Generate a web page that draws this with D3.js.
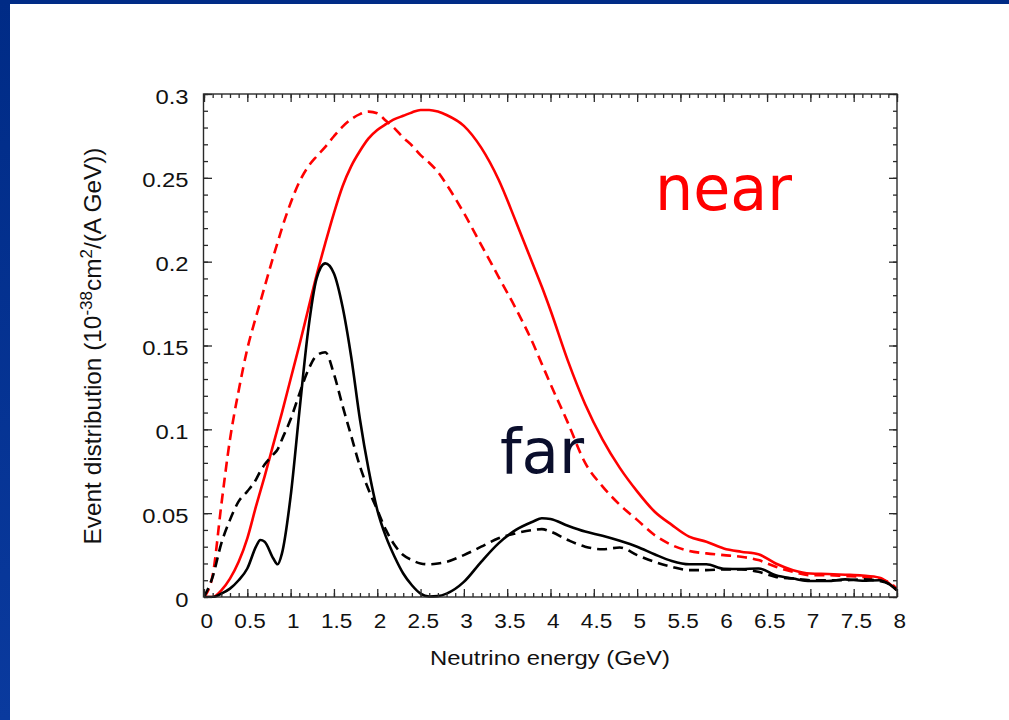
<!DOCTYPE html>
<html>
<head>
<meta charset="utf-8">
<script src="https://cdn.jsdelivr.net/npm/d3@7"></script>
<style>
  html, body { margin: 0; padding: 0; background: #ffffff; }
  svg { display: block; }
</style>
</head>
<body>
<svg id="chart" width="1009" height="720"></svg>
<script>
// ---- data ----
const energy = [0, 0.1, 0.2, 0.3, 0.4, 0.5, 0.6, 0.65, 0.7, 0.8, 0.85, 0.9, 1.0, 1.1, 1.2, 1.3, 1.4, 1.5,
  1.6, 1.7, 1.8, 1.9, 2.0, 2.1, 2.2, 2.3, 2.4, 2.5, 2.6, 2.7, 2.8, 3.0, 3.2, 3.4, 3.6, 3.8, 3.9, 4.0,
  4.2, 4.4, 4.6, 4.8, 5.0, 5.2, 5.4, 5.6, 5.8, 6.0, 6.2, 6.4, 6.6, 6.8, 7.0, 7.2, 7.4, 7.6, 7.8, 7.9, 8.0];

const nearSolid = [0, 0, 0.004, 0.011, 0.021, 0.035, 0.054, 0.063, 0.072, 0.091, 0.1005, 0.110, 0.130, 0.150,
  0.171, 0.192, 0.211, 0.229, 0.245, 0.257, 0.266, 0.2735, 0.2785, 0.282, 0.285, 0.287, 0.289, 0.2905, 0.2905,
  0.2895, 0.2875, 0.281, 0.268, 0.249, 0.224, 0.198, 0.185, 0.171, 0.141, 0.115, 0.094, 0.077, 0.063, 0.051,
  0.043, 0.036, 0.033, 0.029, 0.027, 0.0255, 0.020, 0.016, 0.014, 0.0137, 0.0133, 0.0128, 0.0115, 0.0085, 0.004];

const nearDashed = [0, 0.013, 0.055, 0.094, 0.123, 0.148, 0.167, 0.176, 0.185, 0.203, 0.2115, 0.220, 0.235, 0.2475,
  0.2565, 0.2628, 0.2685, 0.2748, 0.2805, 0.285, 0.288, 0.2895, 0.2885, 0.284, 0.2795, 0.274, 0.2693, 0.2635,
  0.259, 0.2535, 0.246, 0.229, 0.210, 0.191, 0.172, 0.151, 0.139, 0.127, 0.104, 0.080, 0.066, 0.055, 0.046,
  0.037, 0.031, 0.0275, 0.026, 0.025, 0.024, 0.022, 0.018, 0.015, 0.013, 0.013, 0.0125, 0.012, 0.0105, 0.009, 0.005];

const farSolid = [0, 0, 0.002, 0.005, 0.010, 0.017, 0.030, 0.034, 0.033, 0.023, 0.0195, 0.026, 0.060, 0.110,
  0.158, 0.190, 0.199, 0.193, 0.173, 0.143, 0.106, 0.076, 0.052, 0.036, 0.024, 0.014, 0.007, 0.002, 0.0003,
  0.0005, 0.002, 0.009, 0.021, 0.032, 0.040, 0.045, 0.047, 0.0465, 0.0425, 0.039, 0.0365, 0.0335, 0.030,
  0.0255, 0.0215, 0.0195, 0.0195, 0.0168, 0.0167, 0.017, 0.013, 0.011, 0.0095, 0.0095, 0.0105, 0.0097, 0.010, 0.008, 0.004];

const farDashed = [0, 0.012, 0.032, 0.046, 0.057, 0.063, 0.070, 0.075, 0.079, 0.085, 0.088, 0.094, 0.106, 0.121,
  0.135, 0.144, 0.146, 0.133, 0.114, 0.096, 0.078, 0.064, 0.052, 0.040, 0.031, 0.025, 0.022, 0.020, 0.0195,
  0.020, 0.021, 0.025, 0.030, 0.035, 0.038, 0.040, 0.0405, 0.039, 0.034, 0.030, 0.0285, 0.0295, 0.025, 0.021,
  0.018, 0.016, 0.016, 0.0165, 0.0165, 0.015, 0.012, 0.011, 0.010, 0.010, 0.010, 0.0105, 0.0095, 0.008, 0.004];

const xTickValues = [0, 0.5, 1, 1.5, 2, 2.5, 3, 3.5, 4, 4.5, 5, 5.5, 6, 6.5, 7, 7.5, 8];
const yTickValues = [0, 0.05, 0.1, 0.15, 0.2, 0.25, 0.3];
const xTitle = "Neutrino energy (GeV)";
const labelNear = "near";
const labelFar = "far";

// ---- drawing ----
const svg = d3.select("#chart");
svg.append("rect").attr("width", 1009).attr("height", 720).attr("fill", "#ffffff");

const defs = svg.append("defs");
const grad = defs.append("linearGradient").attr("id", "frameGrad").attr("x1", 0).attr("x2", 0).attr("y1", 0).attr("y2", 1);
grad.append("stop").attr("offset", "0%").attr("stop-color", "#002b86");
grad.append("stop").attr("offset", "100%").attr("stop-color", "#0a3a9e");
svg.append("rect").attr("x", 0).attr("y", 0).attr("width", 10).attr("height", 720).attr("fill", "url(#frameGrad)");
svg.append("rect").attr("x", 0).attr("y", 0).attr("width", 1009).attr("height", 4).attr("fill", "#002b86");

const x = d3.scaleLinear().domain([0, 8]).range([204, 897]);
const y = d3.scaleLinear().domain([0, 0.3]).range([597, 94]);

const frameColor = "#2a2a2a";
const fontAxis = "'Liberation Sans', Arial, Helvetica, sans-serif";

// curves
defs.append("clipPath").attr("id", "plotClip").append("rect")
  .attr("x", x(0) - 1).attr("y", y(0.3)).attr("width", x(8) - x(0) + 1).attr("height", y(0) - y(0.3) + 1);

const line = d3.line().x(d => x(d[0])).y(d => y(d[1])).curve(d3.curveMonotoneX);
const series = [
  { vals: nearDashed, color: "#ff0000", dash: "10,6" },
  { vals: nearSolid, color: "#ff0000", dash: null },
  { vals: farDashed, color: "#000000", dash: "10,6" },
  { vals: farSolid, color: "#000000", dash: null }
];
const gLines = svg.append("g").attr("clip-path", "url(#plotClip)");
series.forEach(s => {
  gLines.append("path")
    .datum(energy.map((e, i) => [e, s.vals[i]]))
    .attr("d", line)
    .attr("fill", "none")
    .attr("stroke", s.color)
    .attr("stroke-width", 2.6)
    .attr("stroke-linejoin", "round")
    .attr("stroke-dasharray", s.dash);
});

// axes (ticks inward, mirrored)
const minorX = d3.range(0, 81).map(i => i / 10);
const minorY = d3.range(0, 31).map(i => i / 100);
function styleAxis(g) {
  g.select(".domain").remove();
  g.selectAll("line").attr("stroke", frameColor).attr("stroke-width", 1.3);
}
svg.append("g").attr("transform", `translate(0,${y(0)})`)
  .call(d3.axisBottom(x).tickValues(minorX).tickSize(-4).tickFormat("")).call(styleAxis);
svg.append("g").attr("transform", `translate(0,${y(0.3)})`)
  .call(d3.axisTop(x).tickValues(minorX).tickSize(-4).tickFormat("")).call(styleAxis);
svg.append("g").attr("transform", `translate(${x(0)},0)`)
  .call(d3.axisLeft(y).tickValues(minorY).tickSize(-4).tickFormat("")).call(styleAxis);
svg.append("g").attr("transform", `translate(${x(8)},0)`)
  .call(d3.axisRight(y).tickValues(minorY).tickSize(-4).tickFormat("")).call(styleAxis);

const fmt = d3.format("~g");
const gxb = svg.append("g").attr("transform", `translate(0,${y(0)})`)
  .call(d3.axisBottom(x).tickValues(xTickValues).tickSize(-8).tickPadding(0).tickFormat(fmt)).call(styleAxis);
gxb.selectAll("text")
  .attr("y", 31).attr("dy", null).attr("x", 2)
  .attr("font-family", fontAxis).attr("font-size", 20.5).attr("fill", "#111")
  .attr("transform", "scale(1.1,1)");
svg.append("g").attr("transform", `translate(0,${y(0.3)})`)
  .call(d3.axisTop(x).tickValues(xTickValues).tickSize(-8).tickFormat("")).call(styleAxis);

const gyl = svg.append("g").attr("transform", `translate(${x(0)},0)`)
  .call(d3.axisLeft(y).tickValues(yTickValues).tickSize(-8).tickPadding(0).tickFormat(fmt)).call(styleAxis);
gyl.selectAll("text")
  .attr("x", -13).attr("y", 9).attr("dy", null)
  .attr("font-family", fontAxis).attr("font-size", 20).attr("fill", "#111")
  .attr("transform", "scale(1.19,1)");
svg.append("g").attr("transform", `translate(${x(8)},0)`)
  .call(d3.axisRight(y).tickValues(yTickValues).tickSize(-8).tickFormat("")).call(styleAxis);

// frame
svg.append("rect")
  .attr("x", x(0) - 0.5).attr("y", y(0.3)).attr("width", x(8) - x(0) + 0.5).attr("height", y(0) - y(0.3))
  .attr("fill", "none").attr("stroke", frameColor).attr("stroke-width", 1.4);

// helper: fit text width horizontally
function fitWidth(sel, targetW, anchorX, baseY, sy) {
  const w = sel.node().getComputedTextLength();
  const s = targetW / w;
  sel.attr("transform", `translate(${anchorX},${baseY}) scale(${s},${sy || 1})`);
}

// x axis title
const xt = svg.append("text").text(xTitle)
  .attr("font-family", fontAxis).attr("font-size", 21).attr("fill", "#111")
  .attr("text-anchor", "middle");
fitWidth(xt, 240, 550, 665);

// y axis title (rotated, with superscripts)
const yt = svg.append("text")
  .attr("font-family", fontAxis).attr("font-size", 21.5).attr("fill", "#111")
  .attr("text-anchor", "middle");
yt.append("tspan").text("Event distribution (10");
yt.append("tspan").text("-38").attr("font-size", 15).attr("dy", -8);
yt.append("tspan").text("cm").attr("dy", 8);
yt.append("tspan").text("2").attr("font-size", 15).attr("dy", -8);
yt.append("tspan").text("/(A GeV))").attr("dy", 8);
{
  const w = yt.node().getComputedTextLength();
  const s = 397 / w;
  yt.attr("transform", `translate(100.5,346) rotate(-90) scale(${s},1.1)`);
}

// annotations
const tNear = svg.append("text").text(labelNear)
  .attr("font-family", "'DejaVu Sans', Verdana, sans-serif").attr("font-size", 63)
  .attr("fill", "#ff0000");
fitWidth(tNear, 137, 655, 210);
const tFar = svg.append("text").text(labelFar)
  .attr("font-family", "'DejaVu Sans', Verdana, sans-serif").attr("font-size", 63)
  .attr("fill", "#0a0e2c");
fitWidth(tFar, 84, 500, 473);
</script>
</body>
</html>
